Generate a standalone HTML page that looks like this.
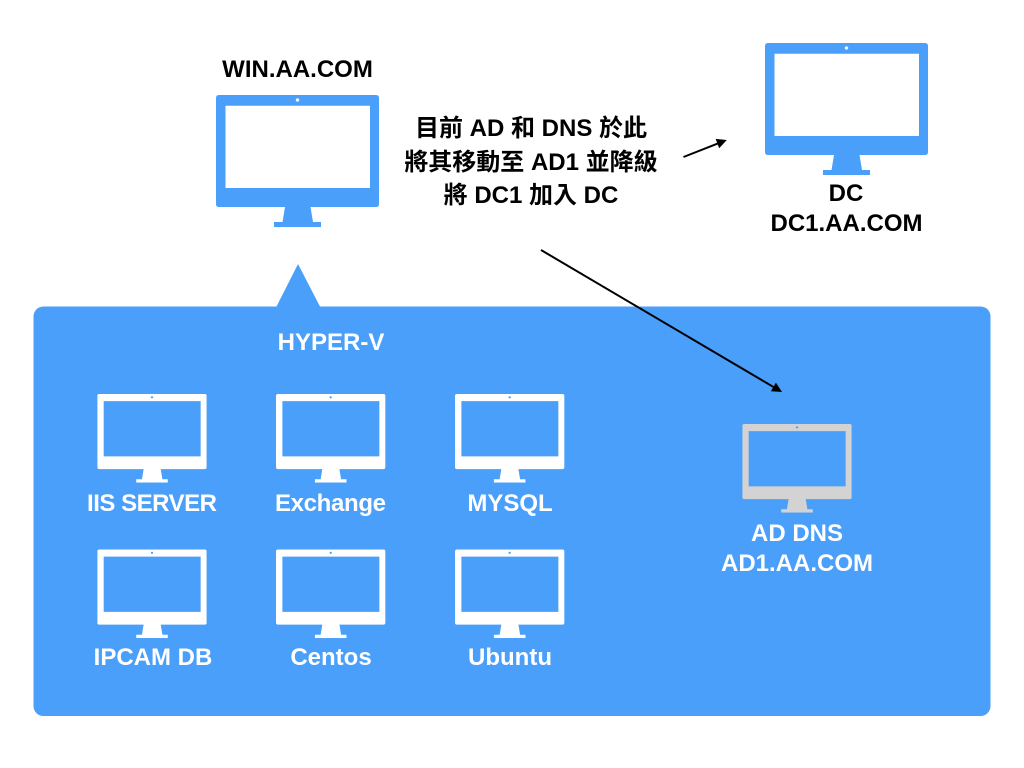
<!DOCTYPE html>
<html>
<head>
<meta charset="utf-8">
<style>
html,body{margin:0;padding:0;background:#fff;width:1024px;height:768px;overflow:hidden}
svg{display:block}
text{font-family:"Liberation Sans","Noto Sans CJK TC",sans-serif;font-weight:bold;font-size:24px;text-anchor:middle}
.w{fill:#fff}
.k{fill:#000}
</style>
</head>
<body>
<svg width="1024" height="768" viewBox="0 0 1024 768" xmlns="http://www.w3.org/2000/svg">
<defs>
<symbol id="mon" viewBox="0 0 163 132" preserveAspectRatio="none">
<path fill-rule="evenodd" fill="currentColor" d="M3 0H160Q163 0 163 3V109Q163 112 160 112H94.500L97 127H105V132H58V127H66.500L69 112H3Q0 112 0 109V3Q0 0 3 0Z M9.500 10.700V93H154V10.700Z M81.500 3.300a1.700 1.700 0 1 0 .01 0Z"/>
</symbol>
</defs>

<rect x="33.500" y="306.500" width="957" height="409.500" rx="10" ry="10" fill="#4a9ffa"/>
<path d="M276 307.500L298 264L320.500 307.500Z" fill="#4a9ffa"/>

<use href="#mon" x="216" y="95" width="163" height="132" style="color:#4a9ffa"/>
<use href="#mon" x="765" y="43" width="163" height="132" style="color:#4a9ffa"/>

<use href="#mon" x="97.300" y="394" width="109.400" height="88.600" style="color:#fff"/>
<use href="#mon" x="276" y="394" width="109.400" height="88.600" style="color:#fff"/>
<use href="#mon" x="455" y="394" width="109.400" height="88.600" style="color:#fff"/>
<use href="#mon" x="97.300" y="549.500" width="109.400" height="88.600" style="color:#fff"/>
<use href="#mon" x="276" y="549.500" width="109.400" height="88.600" style="color:#fff"/>
<use href="#mon" x="455" y="549.500" width="109.400" height="88.600" style="color:#fff"/>
<use href="#mon" x="742.300" y="424" width="109.400" height="88.600" style="color:#d3d3d3"/>

<text class="k" x="297.500" y="77">WIN.AA.COM</text>
<text class="k" x="531" y="136">目前 AD 和 DNS 於此</text>
<text class="k" x="531" y="170">將其移動至 AD1 並降級</text>
<text class="k" x="531" y="203">將 DC1 加入 DC</text>
<text class="k" x="846" y="201">DC</text>
<text class="k" x="846.500" y="231">DC1.AA.COM</text>

<text class="w" x="331" y="350">HYPER-V</text>
<text class="w" x="152" y="511" textLength="130" lengthAdjust="spacing">IIS SERVER</text>
<text class="w" x="330.500" y="511" textLength="111" lengthAdjust="spacing">Exchange</text>
<text class="w" x="510" y="511">MYSQL</text>
<text class="w" x="153" y="665">IPCAM DB</text>
<text class="w" x="331" y="665">Centos</text>
<text class="w" x="510" y="665">Ubuntu</text>
<text class="w" x="797" y="541">AD DNS</text>
<text class="w" x="797" y="571">AD1.AA.COM</text>

<line x1="683.500" y1="157" x2="718" y2="143.400" stroke="#000" stroke-width="2"/>
<polygon points="726.800,140 719.200,148.300 715.600,138.900" fill="#000"/>
<line x1="541" y1="250" x2="774" y2="387.300" stroke="#000" stroke-width="2"/>
<polygon points="782,392 775.900,382.600 770.900,391.200" fill="#000"/>
</svg>
</body>
</html>
